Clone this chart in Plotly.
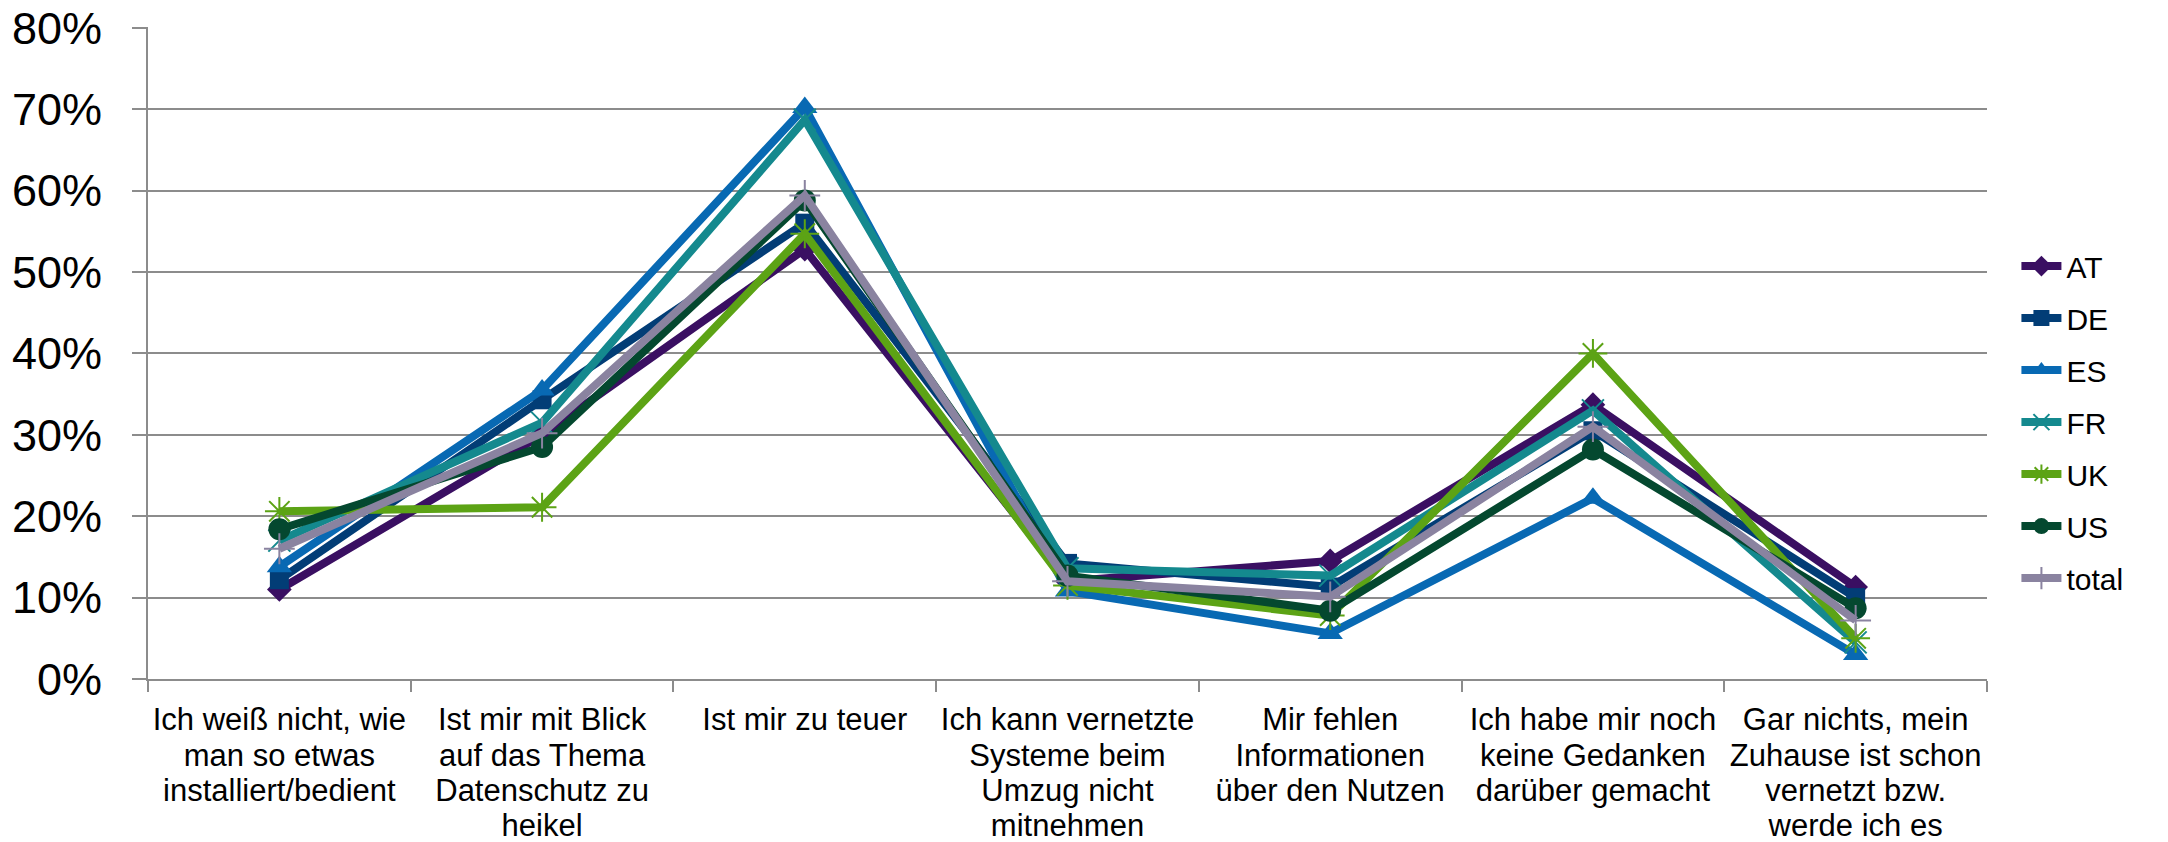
import plotly.graph_objects as go

categories = [
    "Ich weiß nicht, wie<br>man so etwas<br>installiert/bedient",
    "Ist mir mit Blick<br>auf das Thema<br>Datenschutz zu<br>heikel",
    "Ist mir zu teuer",
    "Ich kann vernetzte<br>Systeme beim<br>Umzug nicht<br>mitnehmen",
    "Mir fehlen<br>Informationen<br>über den Nutzen",
    "Ich habe mir noch<br>keine Gedanken<br>darüber gemacht",
    "Gar nichts, mein<br>Zuhause ist schon<br>vernetzt bzw.<br>werde ich es",
]

series_names = ["AT", "DE", "ES", "FR", "UK", "US", "total"]
AT = [11.0, 30.0, 52.8, 12.0, 14.5, 33.7, 11.3]
DE = [12.2, 34.3, 56.0, 14.2, 11.3, 30.5, 10.0]
ES = [13.8, 35.5, 70.2, 10.8, 5.6, 22.2, 3.0]
FR = [17.0, 31.5, 68.7, 13.6, 12.7, 33.0, 4.5]
UK = [20.6, 21.1, 54.7, 11.5, 7.8, 40.0, 5.0]
US = [18.4, 28.5, 58.8, 12.7, 8.4, 28.2, 8.7]
total = [16.0, 30.2, 59.4, 12.0, 10.1, 31.0, 7.2]
values = [AT, DE, ES, FR, UK, US, total]

y_ticks = [0, 10, 20, 30, 40, 50, 60, 70, 80]
y_tick_labels = ["0%", "10%", "20%", "30%", "40%", "50%", "60%", "70%", "80%"]

colors = ["#3a0f62", "#023d76", "#0869b3", "#14898e", "#5ca315", "#04482f", "#8a83a0"]
symbols = ["diamond", "square", "triangle-up", "x-thin", "asterisk", "circle", "cross-thin"]
sizes = [19, 19, 22, 22, 24, 22, 22]


def styled(label):
    return "<br>".join(
        "<span style='font-size:31px'>%s</span>" % part for part in label.split("<br>")
    )


tick_text = [styled(c) for c in categories]

fig = go.Figure()
for name, vals, c, s, sz in zip(series_names, values, colors, symbols, sizes):
    thin = s in ("x-thin", "asterisk", "cross-thin")
    fig.add_trace(go.Scatter(
        x=categories, y=vals, name=name, mode="lines+markers",
        legendgroup=name,
        line=dict(color=c, width=8),
        marker=dict(symbol=s, size=sz, color=c,
                    line=dict(color=c, width=2 if thin else 0)),
    ))

fig.update_layout(
    width=2160, height=834,
    margin=dict(l=140, r=181, t=19, b=163, autoexpand=False),
    paper_bgcolor="white", plot_bgcolor="white",
    font=dict(family="Liberation Sans", color="black"),
    showlegend=True,
    legend=dict(x=1.016, xanchor="left", y=0.394, yanchor="middle",
                font=dict(size=30, family="Liberation Sans"),
                tracegroupgap=10, itemwidth=40,
                bgcolor="rgba(0,0,0,0)"),
)
fig.update_xaxes(
    type="category", range=[-0.5, 6.5], automargin=False,
    tickmode="array", tickvals=categories, ticktext=tick_text,
    showgrid=False, showline=True, linecolor="#8c8c8c", linewidth=2,
    ticks="outside", tickson="boundaries", ticklen=11, tickcolor="#8c8c8c", tickwidth=2,
    tickfont=dict(size=27, family="Liberation Sans"),
    ticklabelstandoff=17, ticklabeloverflow="allow",
    tickangle=0,
)
fig.update_yaxes(
    range=[0, 80.1], automargin=False,
    tickmode="array", tickvals=y_ticks, ticktext=y_tick_labels,
    showgrid=True, gridcolor="#8c8c8c", gridwidth=2,
    showline=True, linecolor="#8c8c8c", linewidth=2,
    ticks="outside", ticklen=14, tickcolor="#8c8c8c", tickwidth=2,
    tickfont=dict(size=45, family="Liberation Sans"),
    ticklabelstandoff=21, ticklabeloverflow="allow",
    zeroline=False,
)

fig.write_html("out.html")
